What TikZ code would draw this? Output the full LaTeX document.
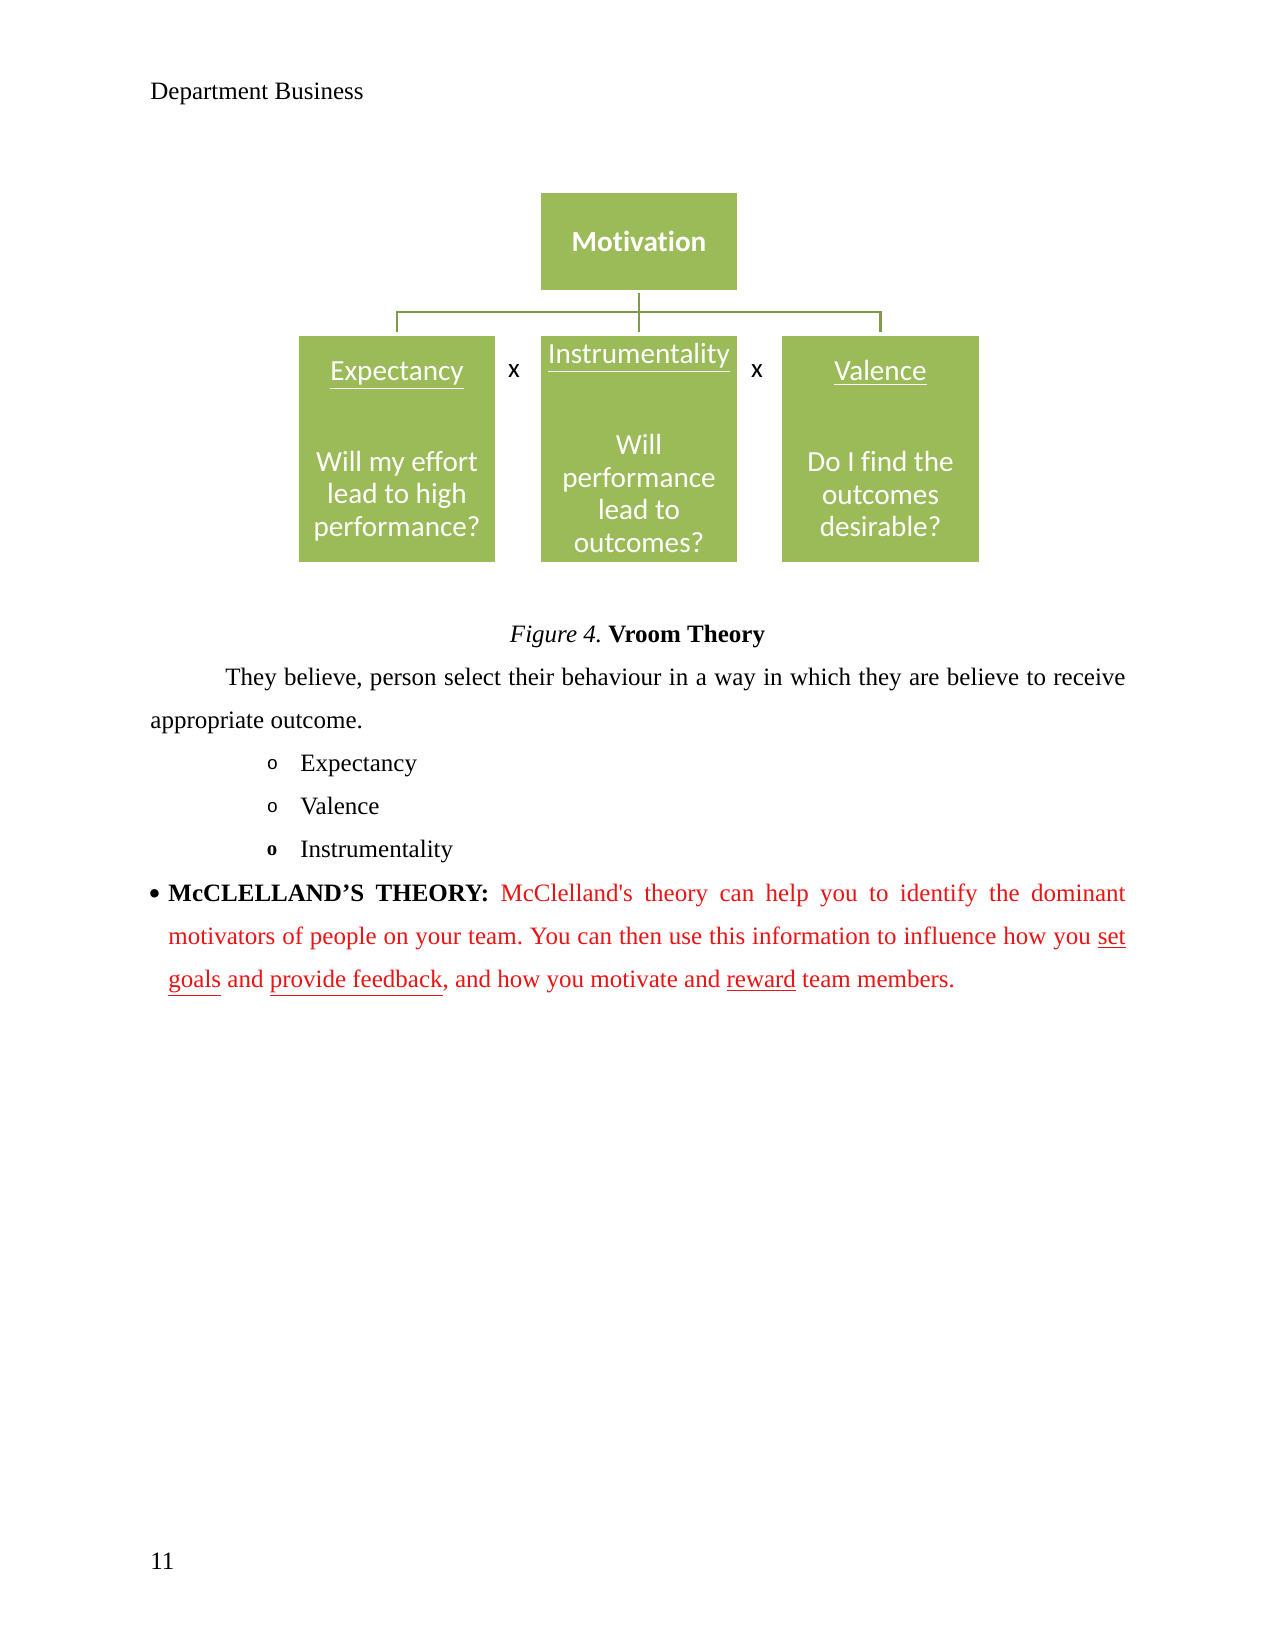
\documentclass[tikz,border=0pt]{standalone}
\usepackage{fontspec}
\setmainfont{Liberation Serif}
\setmonofont{Liberation Mono}
\newfontfamily\boxfont[Ligatures=NoCommon]{Carlito}
\usepackage{xcolor}
\usetikzlibrary{positioning,calc}
\definecolor{boxgreen}{RGB}{155,187,89}
\definecolor{linegreen}{RGB}{127,154,72}
\definecolor{textred}{RGB}{235,20,20}
\newcommand{\undl}[1]{\underline{#1}}

\begin{document}
\begin{tikzpicture}[x=0.48pt,y=-0.48pt,
		greenbox/.style={
			fill=boxgreen,
			inner sep=0pt,
			minimum width=94.1pt
		},
		boxtext/.style={
			text=white,
			align=center,
			inner sep=0pt,
			font=\boxfont\fontsize{14}{15.65}\selectfont
		},
		conn/.style={draw=linegreen,line width=1.3pt,shorten <=1.5pt,shorten >=1.5pt},
		pagetext/.style={anchor=base west,inner sep=0pt,font=\frenchspacing\fontsize{12}{20.7}\selectfont},
		circbullet/.style={anchor=base west,inner sep=0pt,font=\ttfamily\fontsize{9}{10}\selectfont}
		]
		
		\useasboundingbox[fill=white] (0,0) rectangle (1275,1650);
		
		\node[pagetext] (header) at (150,99.5) {Department Business};
		
		\node[greenbox,boxtext,minimum height=46.1pt] (motiv) at (639,241.5) {\textbf{Motivation}};
		\node[greenbox,minimum height=108.5pt] (expect) at (397,449) {};
		\node[greenbox,minimum height=108.5pt] (instr) at (639,449) {};
		\node[greenbox,minimum height=108.5pt] (valen) at (880.5,449) {};
		
		\node[boxtext,anchor=base] (expecttitle) at (397,381) {\undl{Expectancy}};
		\node[boxtext,anchor=base] (instrtitle) at (639,363.5) {\undl{Instrumentality}};
		\node[boxtext,anchor=base] (valentitle) at (880.5,381) {\undl{Valence}};
		
		\node[boxtext] (expectbody) at (397,496) {Will my effort\\lead to high\\performance?};
		\node[boxtext] (instrbody) at (639,493.5) {Will\\performance\\lead to\\outcomes?};
		\node[boxtext] (valenbody) at (880.5,494) {Do I find the\\outcomes\\desirable?};
		
		\node[font=\boxfont\fontsize{13}{13}\selectfont,inner sep=0pt] (times1) at (514,371.5) {x};
		\node[font=\boxfont\fontsize{13}{13}\selectfont,inner sep=0pt] (times2) at (757,371.5) {x};
		
		\coordinate (bus) at (639,312);
		\draw[conn] (motiv.south)--(instr.north);
		\draw[conn] (expect.north) |- (bus) -| (valen.north);
		
		\node[pagetext,anchor=base] (caption) at (637.5,642) {\textit{Figure 4.} \textbf{Vroom Theory}};
		
		\node[pagetext,text width=468pt,align=justify] (para) at (150,685.5) {\hspace*{36pt}They believe, person select their behaviour in a way in which they are believe to receive\linebreak appropriate outcome.};
		
		\node[circbullet] (dot1) at (266.5,769.5) {o};
		\node[circbullet] (dot2) at (266.5,812.5) {o};
		\node[circbullet,font=\bfseries] (dot3) at (266.5,855.5) {o};
		\node[pagetext] (item1) at (300,771.5) {Expectancy};
		\node[pagetext] (item2) at (300,814.5) {Valence};
		\node[pagetext] (item3) at (300,857.5) {Instrumentality};
		
		\node[pagetext,font=\fontsize{17}{17}\selectfont] (bullet) at (148,905) {\textbullet};
		\node[pagetext,text width=459.4pt,align=justify,text=textred] (mccl) at (168,901) {\textcolor{black}{\textbf{McCLELLAND’S THEORY:}} McClelland\textquotesingle s theory can help you to identify the dominant\linebreak motivators of people on your team. You can then use this information to influence how you \undl{set}\linebreak \undl{goals} and \undl{provide feedback}, and how you motivate and \undl{reward} team members.};
		
		\node[pagetext] (pageno) at (150,1569) {11};
		
	\end{tikzpicture}
\end{document}
